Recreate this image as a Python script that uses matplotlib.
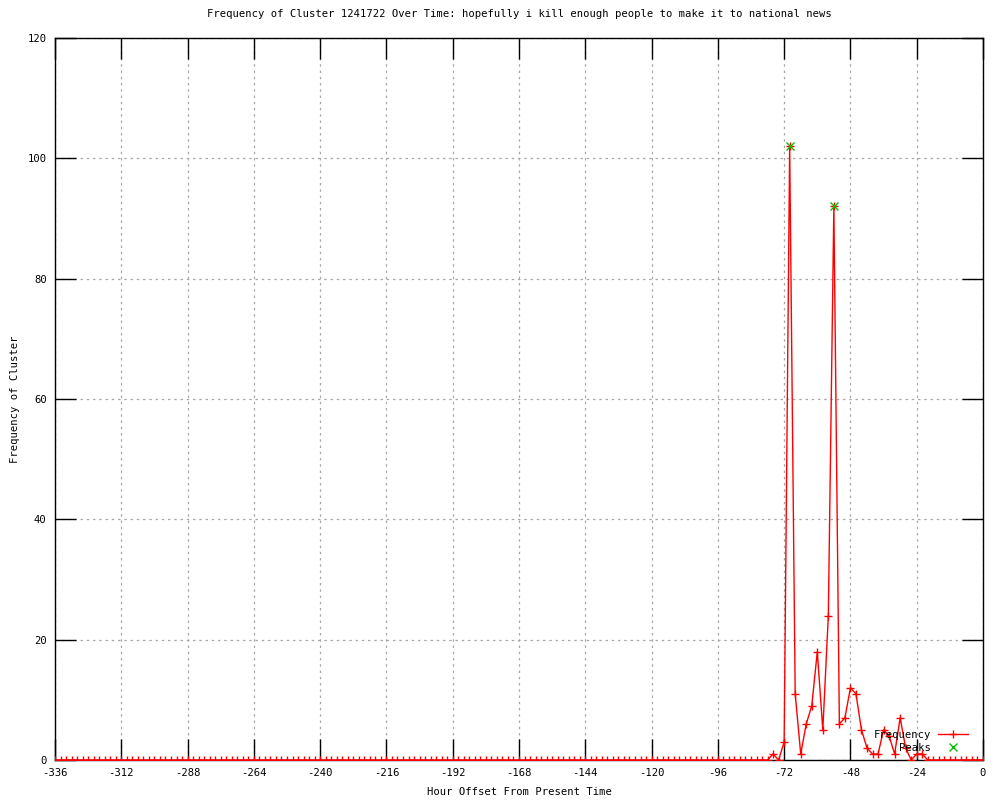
import numpy as np
import matplotlib
matplotlib.use("Agg")
import matplotlib.pyplot as plt
from matplotlib.ticker import FixedLocator, FuncFormatter

# ---- data ----
hours = list(range(-336, 1, 2))
nonzero = {
    -76: 1, -72: 3, -70: 102, -68: 11, -66: 1, -64: 6, -62: 9, -60: 18,
    -58: 5, -56: 24, -54: 92, -52: 6, -50: 7, -48: 12, -46: 11, -44: 5,
    -42: 2, -40: 1, -38: 1, -36: 5, -34: 4, -32: 1, -30: 7, -28: 2,
    -24: 1, -22: 1,
}
frequency = [nonzero.get(h, 0) for h in hours]
peak_hours = [-70, -54]
peak_values = [102, 92]

x_ticks = list(range(-336, 1, 24))
y_ticks = list(range(0, 121, 20))

title = "Frequency of Cluster 1241722 Over Time: hopefully i kill enough people to make it to national news"
xlabel = "Hour Offset From Present Time"
ylabel = "Frequency of Cluster"

# ---- plot ----
plt.rcParams['font.family'] = ['DejaVu Sans Mono']
fs = 7.6
fig = plt.figure(figsize=(10, 8), dpi=100)
ax = fig.add_axes([0.055, 0.05, 0.928, 0.9025])

ax.plot(hours, frequency, color='red', lw=1.0, marker='+', ms=6, mew=1.0,
        label='Frequency', zorder=3)
ax.plot(peak_hours, peak_values, ls='none', marker='x', color='#00c000',
        ms=6, mew=1.0, label='Peaks', zorder=4)

ax.set_xlim(-336, 0)
ax.set_ylim(0, 120)
ax.xaxis.set_major_locator(FixedLocator(x_ticks))
ax.yaxis.set_major_locator(FixedLocator(y_ticks))
ax.xaxis.set_major_formatter(FuncFormatter(lambda v, p: "%d" % v))
ax.yaxis.set_major_formatter(FuncFormatter(lambda v, p: "%d" % v))
ax.tick_params(direction='in', length=15, width=1, top=True, right=True,
               labelsize=fs, pad=6, colors='black')
ax.grid(True, color='#a8a8a8', ls=(0, (2, 3)), lw=0.9)
for s in ax.spines.values():
    s.set_linewidth(1.0)

ax.set_title(title, fontsize=fs, pad=15)
ax.set_xlabel(xlabel, fontsize=fs, labelpad=6)
ax.set_ylabel(ylabel, fontsize=fs)
ax.yaxis.set_label_coords(-0.038, 0.5)

ax.legend(loc='lower right', bbox_to_anchor=(0.992, 0.0), markerfirst=False,
          frameon=False, fontsize=fs, handlelength=2.9, labelspacing=0.25,
          handletextpad=0.6, borderaxespad=0.3)

fig.savefig('out.png', dpi=100)
